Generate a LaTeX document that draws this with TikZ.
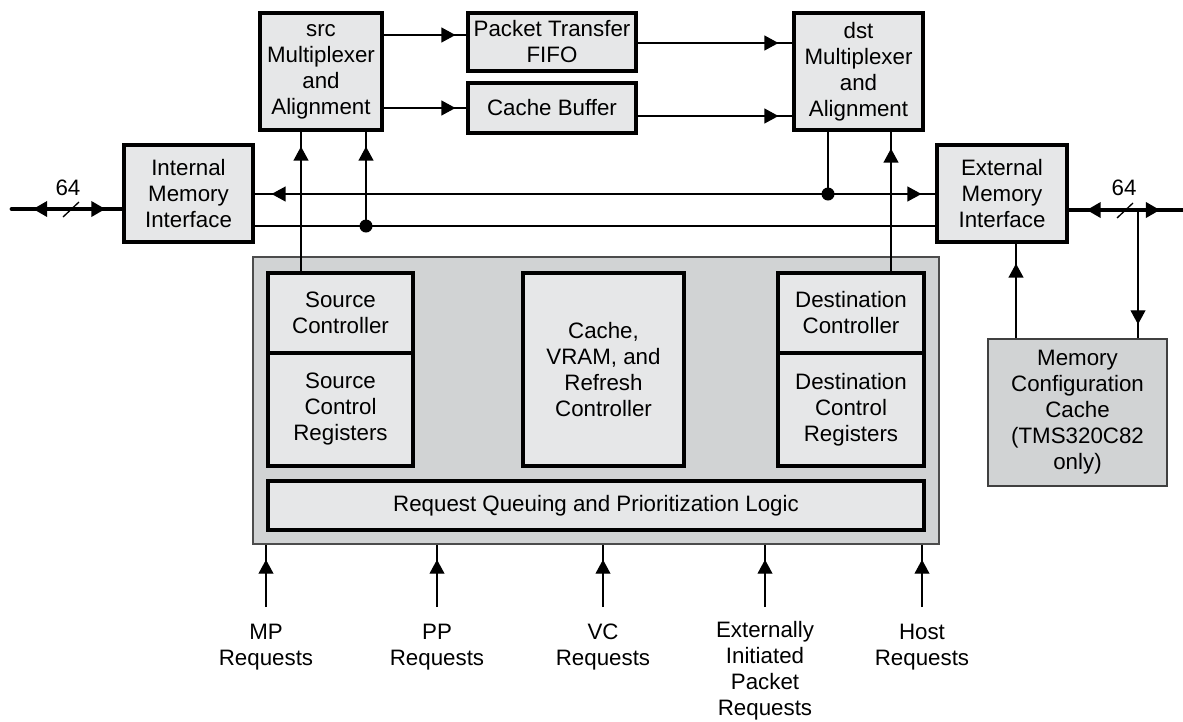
\documentclass[tikz,border=0pt]{standalone}
\usepackage{fontspec}
\setmainfont{Liberation Sans}
\usetikzlibrary{arrows.meta,decorations.markings,calc}

\definecolor{boxfill}{HTML}{E6E7E8}
\definecolor{panelfill}{HTML}{D1D3D4}

\tikzset{
  Tri/.tip={Triangle[length=8pt,width=8.5pt]},
  blk/.style={draw=black, line width=1.8pt, fill=boxfill, inner sep=0pt, align=center, rectangle},
  panelbox/.style={draw=black!70, line width=0.8pt, fill=panelfill, inner sep=0pt, rectangle},
  thinblk/.style={draw=black!75, line width=0.8pt, fill=panelfill, inner sep=0pt, align=center, rectangle},
  sz/.style 2 args={minimum width=#1cm, minimum height=#2cm},
  conn/.style={draw=black, line width=0.75pt},
  bus/.style={draw=black, line width=2.8pt, line cap=round},
  tipgap/.style={postaction={decorate},
    decoration={markings, mark=at position -#1 with {\arrow{Tri}}}},
  bustips/.style n args={2}{postaction={decorate},
    decoration={markings,
      mark=at position #1 with {\arrowreversed{Tri}},
      mark=at position -#2 with {\arrow{Tri}}}},
  lbl/.style={inner sep=0pt, align=center, anchor=north},
  dot/.style={fill=black}
}

\begin{document}
\begin{tikzpicture}[x=0.02cm, y=-0.02cm, font=\fontsize{12.7pt}{14.8pt}\selectfont]
\useasboundingbox (0,0) rectangle (1183,721);

% ---- upper data path ----
\node[blk, sz={2.44}{2.34}] (src) at (321,71.5) {src\\Multiplexer\\and\\Alignment};
\node[blk, sz={3.36}{1.16}] (fifo) at (552,42) {Packet Transfer\\FIFO};
\node[blk, sz={3.36}{1.0}] (cbuf) at (552,108) {Cache Buffer};
\node[blk, sz={2.58}{2.34}] (dst) at (858.5,71.5) {dst\\Multiplexer\\and\\Alignment};

% ---- memory interfaces ----
\node[blk, sz={2.58}{1.94}] (int) at (188.5,193.5) {Internal\\Memory\\Interface};
\node[blk, sz={2.6}{1.94}] (ext) at (1002,193.5) {External\\Memory\\Interface};

% ---- controller panel ----
\node[panelbox, sz={13.72}{5.74}] (panel) at (596,400.5) {};
\node[blk, sz={2.9}{1.6}] (srcctl) at (340.5,313) {Source\\Controller};
\node[blk, sz={2.9}{2.26}] (srcreg) at (340.5,409.5) {Source\\Control\\Registers};
\node[blk, sz={3.22}{3.86}] (cvr) at (603.5,369.5) {Cache,\\VRAM, and\\Refresh\\Controller};
\node[blk, sz={2.92}{1.6}] (dstctl) at (851,313) {Destination\\Controller};
\node[blk, sz={2.92}{2.26}] (dstreg) at (851,409.5) {Destination\\Control\\Registers};
\node[blk, sz={13.12}{0.98}] (rq) at (596,505.5) {Request Queuing and Prioritization Logic};

% ---- memory configuration cache ----
\node[thinblk, sz={3.58}{2.94}] (mcc) at (1077.5,412.5) {Memory\\Configuration\\Cache\\(TMS320C82\\only)};

% ---- helper coordinates ----
\coordinate (y35) at (0,35);
\coordinate (y43) at (0,43);
\coordinate (y108) at (0,108);
\coordinate (y116) at (0,116);
\coordinate (xA) at (301,0);
\coordinate (xB) at (891,0);
\coordinate (xC) at (1016,0);
\coordinate (jsrc) at (366,226);
\coordinate (jdst) at (828,194);
\coordinate (busL) at (12,209);
\coordinate (busR) at (1182,210);
\coordinate (tapR) at (1138,210);

% ---- mux / buffer connections ----
\draw[conn, tipgap=0.22cm] (src.east |- y35) -- (fifo.west |- y35);
\draw[conn, tipgap=0.22cm] (src.east |- y108) -- (cbuf.west |- y108);
\draw[conn, tipgap=0.28cm] (fifo.east |- y43) -- (dst.west |- y43);
\draw[conn, tipgap=0.28cm] (cbuf.east |- y116) -- (dst.west |- y116);

% ---- internal buses ----
\draw[conn] (int.east |- jsrc) -- (ext.west |- jsrc);
\draw[conn, tipgap=0.34cm] (jdst) -- (int.east |- jdst);
\draw[conn, tipgap=0.28cm] (jdst) -- (ext.west |- jdst);
\draw[conn] (dst.south -| jdst) -- (jdst);
\draw[conn, tipgap=0.3cm] (jsrc) -- (src.south -| jsrc);
\fill[dot] (jsrc) circle[radius=0.13cm];
\fill[dot] (jdst) circle[radius=0.13cm];

% ---- controller to multiplexers ----
\draw[conn, tipgap=0.3cm] (srcctl.north -| xA) -- (src.south -| xA);
\draw[conn, tipgap=0.34cm] (dstctl.north -| xB) -- (dst.south -| xB);

% ---- external 64-bit buses ----
\draw[bus, bustips={0.42cm}{0.34cm}] (busL) -- (int.west |- busL);
\draw[conn] (63,217) -- (79,202);
\node[inner sep=0pt] (wL) at (68,188) {64};
\draw[bus, bustips={0.36cm}{0.44cm}] (ext.east |- busR) -- (busR);
\draw[conn] (1117,218) -- (1133,203);
\node[inner sep=0pt] (wR) at (1124,188) {64};

% ---- memory configuration cache links ----
\draw[conn, tipgap=0.4cm] (mcc.north -| xC) -- (ext.south -| xC);
\draw[conn, tipgap=0.28cm] (tapR) -- (mcc.north -| tapR);

% ---- request inputs ----
\foreach \n/\x in {mp/266, pp/437, vc/603, ei/765, host/922} {
  \coordinate (r\n) at (\x,607);
  \draw[conn, tipgap=0.3cm] (r\n) -- (r\n |- panel.south);
}
\node[lbl] (lmp) at (266,624) {MP\\Requests};
\node[lbl] (lpp) at (437,624) {PP\\Requests};
\node[lbl] (lvc) at (603,624) {VC\\Requests};
\node[lbl] (lei) at (765,621) {Externally\\Initiated\\Packet\\Requests};
\node[lbl] (lhost) at (922,624) {Host\\Requests};
\end{tikzpicture}
\end{document}
